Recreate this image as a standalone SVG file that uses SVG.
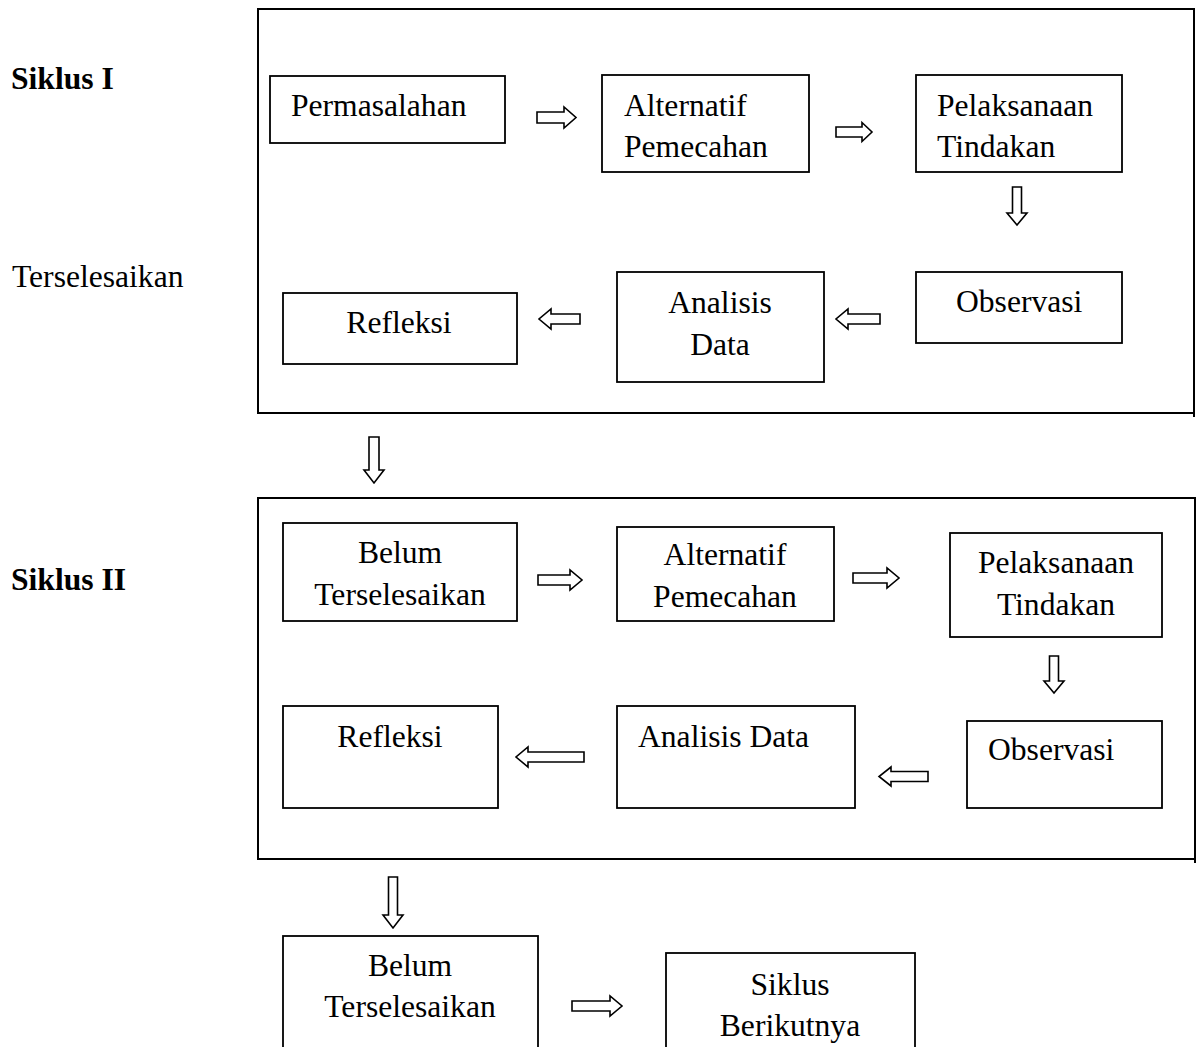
<svg xmlns="http://www.w3.org/2000/svg" width="1200" height="1047" viewBox="0 0 1200 1047">
<style>
  .frame { fill: none; stroke: #000; stroke-width: 2; }
  .tick { stroke: #000; stroke-width: 2; }
  .box { fill: #fff; stroke: #000; stroke-width: 1.8; }
  .arr { fill: #fff; stroke: #000; stroke-width: 1.6; stroke-linejoin: miter; }
  text { font-family: "Liberation Serif", "Times New Roman", serif; font-size: 31.6px; fill: #000; }
  .b { font-weight: bold; }
  .c { text-anchor: middle; }
</style>
<rect width="1200" height="1047" fill="#fff"/>

<g id="labels">
  <text class="b" x="11" y="89">Siklus I</text>
  <text x="12" y="287">Terselesaikan</text>
  <text class="b" x="11" y="590">Siklus II</text>
</g>

<g id="cycle1">
  <rect class="frame" x="258" y="9" width="936" height="404"/>
  <line class="tick" x1="1194" y1="413" x2="1194" y2="417"/>
</g>
<g id="cycle2">
  <rect class="frame" x="258" y="498" width="937" height="361"/>
  <line class="tick" x1="1195" y1="859" x2="1195" y2="863"/>
</g>

<g id="n-permasalahan">
  <rect class="box" x="270" y="76" width="235" height="67"/>
  <text x="291" y="116">Permasalahan</text>
</g>
<g id="n-alternatif1">
  <rect class="box" x="602" y="75" width="207" height="97"/>
  <text x="624" y="116">Alternatif</text>
  <text x="624" y="157">Pemecahan</text>
</g>
<g id="n-pelaksanaan1">
  <rect class="box" x="916" y="75" width="206" height="97"/>
  <text x="937" y="116">Pelaksanaan</text>
  <text x="937" y="157">Tindakan</text>
</g>
<g id="n-observasi1">
  <rect class="box" x="916" y="272" width="206" height="71"/>
  <text x="956" y="312">Observasi</text>
</g>
<g id="n-analisis1">
  <rect class="box" x="617" y="272" width="207" height="110"/>
  <text class="c" x="720" y="313">Analisis</text>
  <text class="c" x="720" y="355">Data</text>
</g>
<g id="n-refleksi1">
  <rect class="box" x="283" y="293" width="234" height="71"/>
  <text class="c" x="399" y="333">Refleksi</text>
</g>

<g id="n-belum2">
  <rect class="box" x="283" y="523" width="234" height="98"/>
  <text class="c" x="400" y="563">Belum</text>
  <text class="c" x="400" y="605">Terselesaikan</text>
</g>
<g id="n-alternatif2">
  <rect class="box" x="617" y="527" width="217" height="94"/>
  <text class="c" x="725" y="565">Alternatif</text>
  <text class="c" x="725" y="607">Pemecahan</text>
</g>
<g id="n-pelaksanaan2">
  <rect class="box" x="950" y="533" width="212" height="104"/>
  <text class="c" x="1056" y="573">Pelaksanaan</text>
  <text class="c" x="1056" y="615">Tindakan</text>
</g>
<g id="n-observasi2">
  <rect class="box" x="967" y="721" width="195" height="87"/>
  <text x="988" y="760">Observasi</text>
</g>
<g id="n-analisis2">
  <rect class="box" x="617" y="706" width="238" height="102"/>
  <text x="638" y="747">Analisis Data</text>
</g>
<g id="n-refleksi2">
  <rect class="box" x="283" y="706" width="215" height="102"/>
  <text class="c" x="390" y="747">Refleksi</text>
</g>

<g id="n-belum3">
  <rect class="box" x="283" y="936" width="255" height="120"/>
  <text class="c" x="410" y="976">Belum</text>
  <text class="c" x="410" y="1017">Terselesaikan</text>
</g>
<g id="n-siklus-berikutnya">
  <rect class="box" x="666" y="953" width="249" height="110"/>
  <text class="c" x="790" y="995">Siklus</text>
  <text class="c" x="790" y="1036">Berikutnya</text>
</g>

<g id="connectors">
  <polygon class="arr" points="537,112 564,112 564,107 576,117.5 564,128 564,123 537,123"/>
  <polygon class="arr" points="836,127 862,127 862,122.5 872,132 862,141.5 862,137 836,137"/>
  <polygon class="arr" points="1012.5,187 1021.5,187 1021.5,213 1027,213 1017,225 1007,213 1012.5,213"/>
  <polygon class="arr" points="880,314 848,314 848,309 836,319 848,329 848,324 880,324"/>
  <polygon class="arr" points="580,314 551,314 551,309 539,319 551,329 551,324 580,324"/>
  <polygon class="arr" points="369,437 379,437 379,470 384,470 374,483 364,470 369,470"/>
  <polygon class="arr" points="538,575 570,575 570,570 582,580 570,590 570,585 538,585"/>
  <polygon class="arr" points="853,573 887,573 887,568 899,578 887,588 887,583 853,583"/>
  <polygon class="arr" points="1049.5,656 1058.5,656 1058.5,681 1064,681 1054,693 1044,681 1049.5,681"/>
  <polygon class="arr" points="584,752 528,752 528,747 516,757 528,767 528,762 584,762"/>
  <polygon class="arr" points="928,771.5 891,771.5 891,767 879,776.5 891,786 891,781.5 928,781.5"/>
  <polygon class="arr" points="388.5,877 397.5,877 397.5,915 403,915 393,928 383,915 388.5,915"/>
  <polygon class="arr" points="572,1001 610,1001 610,996 622,1006 610,1016 610,1011 572,1011"/>
</g>
</svg>
